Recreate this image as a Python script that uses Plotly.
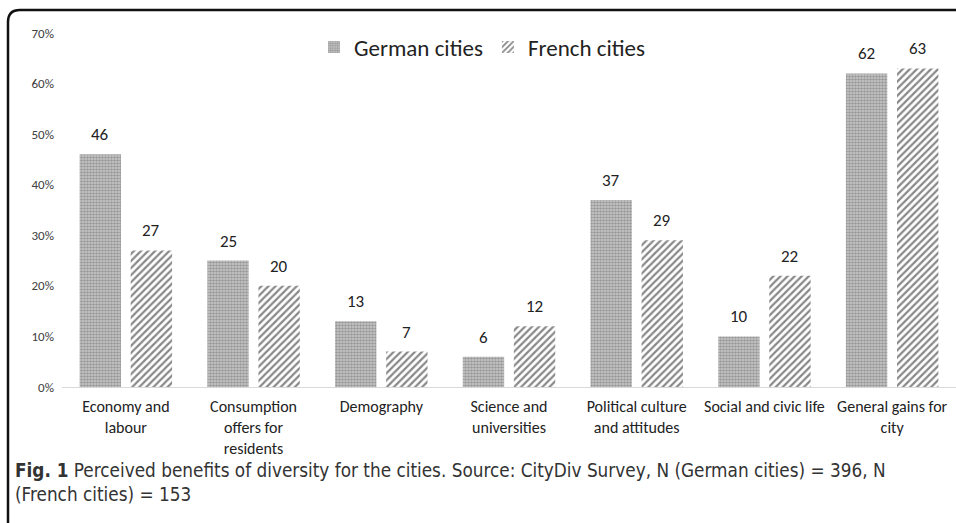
import plotly.graph_objects as go

categories = ["Economy and<br>labour", "Consumption<br>offers for<br>residents", "Demography",
              "Science and<br>universities", "Political culture<br>and attitudes",
              "Social and civic life", "General gains for<br>city"]
german = [46, 25, 13, 6, 37, 10, 62]
french = [27, 20, 7, 12, 29, 22, 63]
y_ticks = [0, 10, 20, 30, 40, 50, 60, 70]

W, H = 956, 523
L, R, T, B = 62, 0, 33, 136
pw, ph = W - L - R, H - T - B

def px(x):
    return (x - L) / pw

def py(y):
    return (H - B - y) / ph

FONT = "Carlito, Lato, Liberation Sans, sans-serif"

fig = go.Figure()
fig.add_trace(go.Bar(
    name="German cities", x=categories, y=german,
    marker=dict(color="#9a9a9a", line=dict(width=0),
                pattern=dict(shape=".", fgcolor="#666666", bgcolor="#cccccc", size=3, solidity=0.55)),
))
fig.add_trace(go.Bar(
    name="French cities", x=categories, y=french,
    marker=dict(color="white", line=dict(width=0),
                pattern=dict(shape="/", fgcolor="#111111", bgcolor="white", size=5, solidity=0.45)),
))

# value labels above bars
for vals, shift in ((german, -25.5), (french, 25.5)):
    for c, v in zip(categories, vals):
        fig.add_annotation(x=c, y=v, text=str(v), showarrow=False, xshift=shift,
                           yanchor="bottom", yshift=7,
                           font=dict(size=17, color="#222222", family=FONT))

fig.update_layout(
    width=W, height=H,
    margin=dict(l=L, r=R, t=T, b=B, autoexpand=False),
    paper_bgcolor="white", plot_bgcolor="white",
    barmode="group", bargap=0.2, bargroupgap=0.19,
    font=dict(family=FONT, color="#404040"),
    showlegend=True,
    legend=dict(orientation="h", x=px(482), xanchor="center", y=py(47), yanchor="middle",
                font=dict(size=23, color="#222222", family=FONT), bgcolor="rgba(0,0,0,0)",
                itemwidth=30, traceorder="normal"),
    xaxis=dict(showline=True, linecolor="#d9d9d9", linewidth=1, ticks="", showgrid=False,
               tickfont=dict(size=16, color="#222222", family=FONT), range=[-0.5, 6.5],
               fixedrange=True, ticklabelstandoff=5),
    yaxis=dict(range=[0, 70], tickvals=y_ticks, ticktext=[f"{v}%" for v in y_ticks],
               showgrid=False, zeroline=False, showline=False, ticks="",
               tickfont=dict(size=13, color="#404040", family=FONT), ticklabelstandoff=7),
)

# frame with rounded top-left corner
x_l, x_c, x_r = px(8), px(20), px(965)
y_t, y_c, y_b = py(10), py(22), py(540)
fig.add_shape(type="path", xref="paper", yref="paper",
              path=f"M {x_l} {y_b} L {x_l} {y_c} Q {x_l} {y_t} {x_c} {y_t} L {x_r} {y_t}",
              line=dict(color="#111111", width=2.5))

fig.add_annotation(
    xref="paper", yref="paper", x=px(13), y=py(458), xanchor="left", yanchor="top",
    align="left", showarrow=False,
    text="<b>Fig. 1</b> Perceived benefits of diversity for the cities. Source: CityDiv Survey, N (German cities) = 396, N<br>(French cities) = 153",
    font=dict(size=18.8, color="#333333", family="Liberation Sans Narrow, DejaVu Sans Condensed, sans-serif"),
)

fig.write_html("out.html", config={"displayModeBar": False},
               post_script="document.body.style.margin='0';document.body.style.overflow='hidden';")
